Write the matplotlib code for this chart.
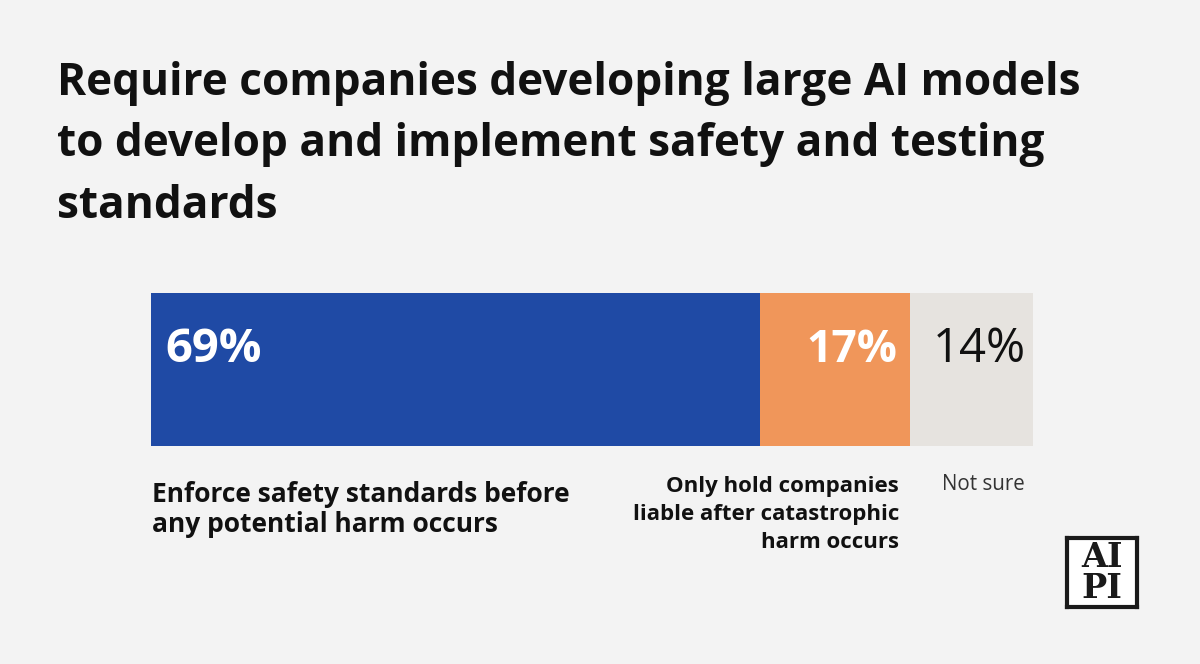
import matplotlib.pyplot as plt

categories = ['Enforce safety standards before\nany potential harm occurs',
              'Only hold companies\nliable after catastrophic\nharm occurs',
              'Not sure']
values = [69, 17, 14]
colors = ['#1f4aa5', '#f0965a', '#e6e3df']
title = 'Require companies developing large AI models\nto develop and implement safety and testing\nstandards'

W, H = 1200, 664
bg = '#f3f3f3'
plt.rcParams['font.family'] = ['Open Sans', 'DejaVu Sans']

fig = plt.figure(figsize=(12, 6.64), dpi=100, facecolor=bg)

def fx(x):
    return x / W

def fy(y):
    return 1 - y / H

def lines_at(text, x, y0, step, **kw):
    # one text per line, placed on its baseline (pixel coords)
    for i, line in enumerate(text.split('\n')):
        fig.text(fx(x), fy(y0 + i * step), line, va='baseline', **kw)

lines_at(title, 57, 95, 61.5, fontsize=31.8, fontweight='bold', color='#111111', ha='left')

# stacked bar
ax = fig.add_axes([fx(151), fy(446), fx(1033) - fx(151), (446 - 293) / H])
ax.set_facecolor(bg)
left = 0
lefts = []
for v, c in zip(values, colors):
    ax.barh(0, v, left=left, color=c, height=1.0, edgecolor='none')
    lefts.append(left)
    left += v
ax.set_xlim(0, 100)
ax.set_ylim(-0.5, 0.5)
ax.axis('off')

# percentage labels (baseline at y=362 px)
yb = 0.5 - (362 - 293) / (446 - 293)
ax.text(lefts[0] + 1.6, yb, f'{values[0]}%', color='white', fontsize=34,
        fontweight='bold', ha='left', va='baseline')
ax.text(lefts[1] + values[1] - 1.4, yb, f'{values[1]}%', color='white', fontsize=32,
        fontweight='bold', ha='right', va='baseline')
ax.text(lefts[2] + 2.6, yb, f'{values[2]}%', color='#111111', fontsize=34,
        ha='left', va='baseline')

# category labels
lines_at(categories[0], 152, 502, 29.5, fontsize=19, fontweight='bold',
         color='#111111', ha='left')
lines_at(categories[1], 899, 492, 28, fontsize=16, fontweight='bold',
         color='#111111', ha='right')
lines_at(categories[2], 942, 490, 28, fontsize=14.8, color='#333333', ha='left')

# logo
lg = fig.add_axes([fx(1067), fy(607), fx(1137) - fx(1067), (607 - 538) / H])
lg.set_facecolor('white')
lg.set_xticks([])
lg.set_yticks([])
for s in lg.spines.values():
    s.set_linewidth(3)
    s.set_color('#1a1a1a')
lg.text(0.5, 0.72, 'AI', fontsize=24, fontweight='bold', family='DejaVu Serif',
        ha='center', va='center', color='#1a1a1a', transform=lg.transAxes)
lg.text(0.5, 0.27, 'PI', fontsize=24, fontweight='bold', family='DejaVu Serif',
        ha='center', va='center', color='#1a1a1a', transform=lg.transAxes)

fig.savefig('out.png', dpi=100, facecolor=bg)
